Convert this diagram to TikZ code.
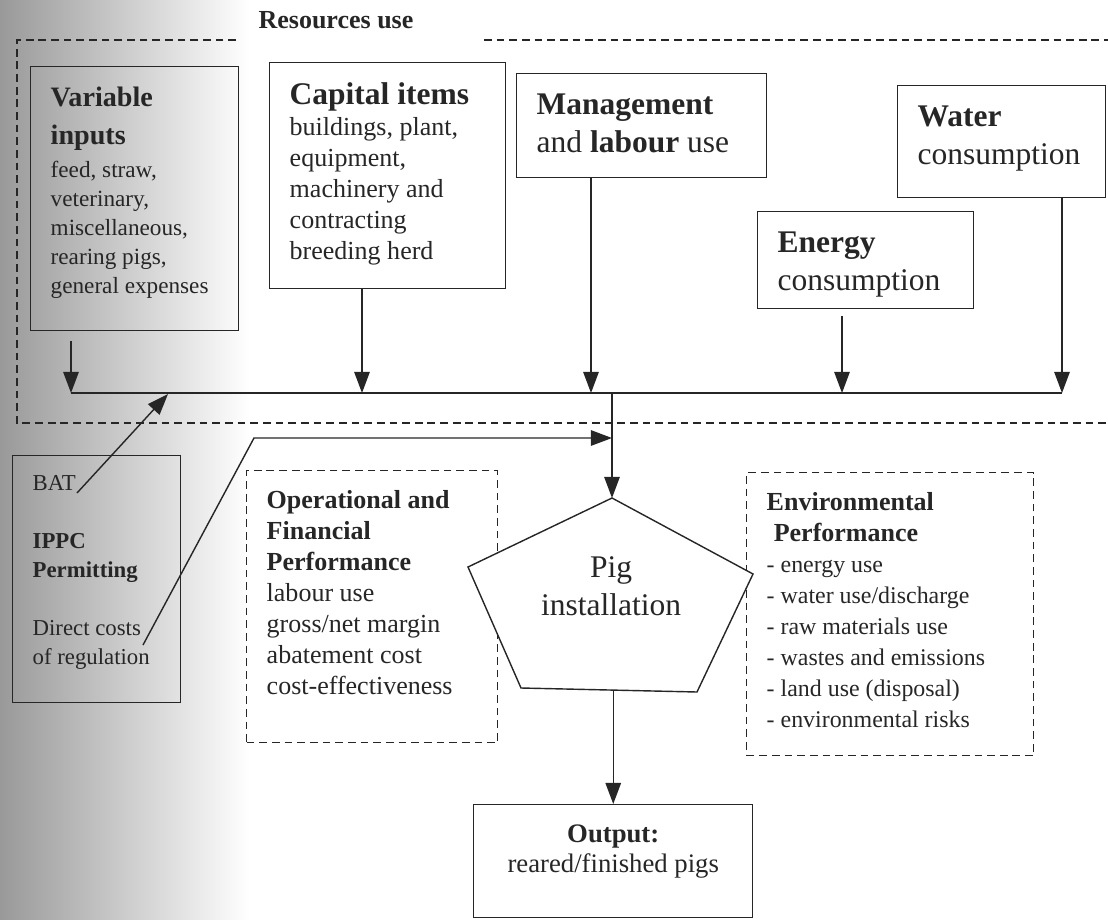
\documentclass[tikz,border=0pt]{standalone}
\usepackage{fontspec}
\setmainfont{Liberation Serif}
\usepackage{xcolor}
\usepackage{tikz}
\usetikzlibrary{arrows.meta, positioning, calc}
\definecolor{PG_INK}{HTML}{262626}
\newcommand{\fsbig}{\fontsize{22.4}{27}\selectfont}
\newcommand{\fsmid}{\fontsize{18.5}{22}\selectfont}
\newcommand{\fssmall}{\fontsize{16.5}{20.6}\selectfont}
\newcommand{\boxtext}[3]{\parbox[t][#2][t]{#1}{\raggedright\hyphenpenalty=10000 #3}}
\tikzset{
  panel/.style={
    draw=PG_INK, text=PG_INK, line width=1pt,
    anchor=north west, inner sep=0.5cm},
  dpanel/.style={panel, dash pattern=on 5.5pt off 3.5pt},
  zone/.style={draw=PG_INK, line width=1pt, dash pattern=on 5.5pt off 3.5pt},
  wire/.style={draw=PG_INK, line width=1pt},
  arr/.style={wire, -{Triangle[length=15pt,width=11pt]}},
  plain/.style={text=PG_INK, inner sep=0pt},
}

\begin{document}
\begin{tikzpicture}[x=0.025cm, y=-0.025cm]

  \useasboundingbox (0,0) rectangle (1108,919);
  \shade[left color=black!40, right color=white] (0,0) rectangle (250,919);

  % resources frame
  \node[plain, font=\fsmid\bfseries] (reslabel) at (336,20) {Resources use};
  \draw[zone] (236,40) -- (17,40) -- (17,423) -- (1108,423);
  \draw[zone] (484,40) -- (1108,40);

  \node[panel] (varin) at (30,66)
    {\boxtext{4.2cm}{5.6cm}{{\fontsize{20}{27}\selectfont\bfseries Variable\\ inputs\par}\vspace{3pt}%
     {\fssmall feed, straw,\\ veterinary,\\ miscellaneous,\\ rearing pigs,\\ general expenses\par}}};

  \node[panel] (capital) at (269,62)
    {\boxtext{4.9cm}{4.65cm}{{\fsbig\bfseries Capital items\par}%
     {\fsmid buildings, plant,\\ equipment,\\ machinery and\\ contracting\\ breeding herd\par}}};

  \node[panel] (mgmt) at (516,73)
    {\boxtext{5.25cm}{1.6cm}{\fsbig\textbf{Management}\\ and \textbf{labour} use}};

  \node[panel] (water) at (897,85)
    {\boxtext{4.2cm}{1.8cm}{\fsbig\textbf{Water}\\ consumption}};

  \node[panel] (energy) at (757,211)
    {\boxtext{4.4cm}{1.425cm}{\fsbig\textbf{Energy}\\ consumption}};

  \node[panel] (bat) at (12,455)
    {\boxtext{3.2cm}{5.175cm}{\fontsize{16.2}{20.6}\selectfont BAT\\[20.6pt]
     \textbf{IPPC}\\ \textbf{Permitting}\\[20.6pt] Direct costs\\ of regulation}};

  \node[dpanel] (opfin) at (246,470)
    {\boxtext{5.275cm}{5.8cm}{\fsmid\textbf{Operational and}\\ \textbf{Financial}\\
     \textbf{Performance}\\ labour use\\ gross/net margin\\ abatement cost\\ cost-effectiveness}};

  \node[dpanel] (envperf) at (746,472)
    {\boxtext{6.175cm}{6.075cm}{{\fsmid\bfseries Environmental\\ \hspace*{5pt}Performance\par}%
     {\fontsize{17}{22}\selectfont - energy use\\ - water use/discharge\\ - raw materials use\\
     - wastes and emissions\\ - land use (disposal)\\ - environmental risks\par}}};

  \node[panel] (output) at (473,804)
    {\boxtext{5.975cm}{1.825cm}{\centering\fontsize{19}{21.3}\selectfont
     \textbf{Output:}\\ reared/finished pigs}};

  % pig installation
  \coordinate (pigtop) at (612,498);
  \coordinate (pigright) at (753,574);
  \coordinate (pigbr) at (697,692);
  \coordinate (pigbl) at (521,688);
  \coordinate (pigleft) at (468,567);
  \filldraw[wire, fill=white] (pigtop) -- (pigright) -- (pigbr) -- (pigbl) -- (pigleft) -- cycle;
  \node[plain, align=center, font=\fsbig] (pig) at (611,586) {Pig\\installation};

  % connectors
  \coordinate (busl) at (71,393);
  \coordinate (busr) at (1062,393);
  \coordinate (hub) at (612,393);
  \coordinate (capin) at (362,393);
  \coordinate (mgmtin) at (591,393);
  \coordinate (energyin) at (842,393);
  \coordinate (batin) at (168,394);
  \coordinate (batout) at (77,493);
  \coordinate (regout) at (143,645);
  \coordinate (regbend) at (254,438);
  \coordinate (pigbase) at (612,690);

  \draw[wire] (busl) -- (busr);
  \draw[arr] ($(varin.south -| busl)+(0,10)$) -- (busl);
  \draw[arr] (capital.south -| capin) -- (capin);
  \draw[arr] (mgmt.south -| mgmtin) -- (mgmtin);
  \draw[arr] ($(energy.south -| energyin)+(0,7)$) -- (energyin);
  \draw[arr] (water.south -| busr) -- (busr);
  \draw[arr] (hub) -- (pigtop);
  \draw[arr] (batout) -- (batin);
  \draw[arr] (regout) -- (regbend) -- (hub |- regbend);
  \draw[arr] (output.north |- pigbase) -- (output.north);

\end{tikzpicture}
\end{document}
